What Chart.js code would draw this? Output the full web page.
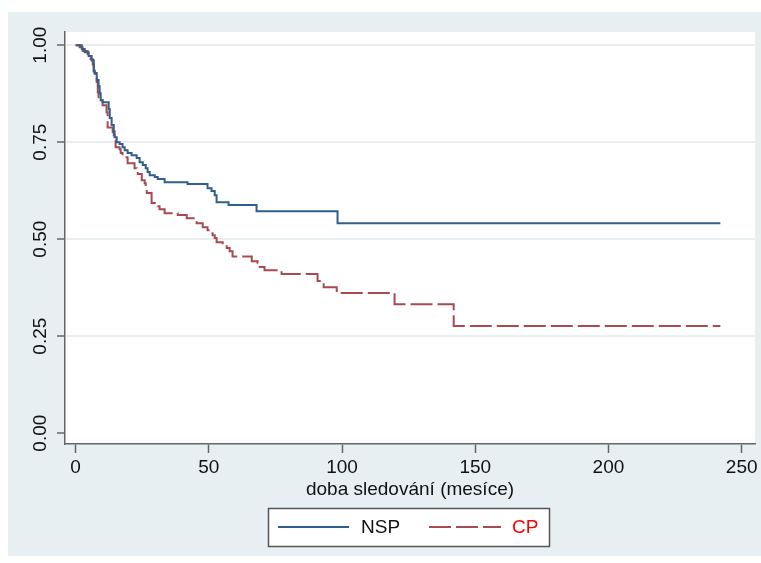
<!DOCTYPE html>
<html>
<head>
<meta charset="utf-8">
<script src="https://cdn.jsdelivr.net/npm/chart.js@4/dist/chart.umd.min.js"></script>
<style>
  html, body { margin: 0; padding: 0; background: #fff; }
  #wrap { position: relative; width: 761px; height: 563px; }
</style>
</head>
<body>
<div id="wrap"><canvas id="km" width="761" height="563"></canvas></div>
<script>
// Kaplan-Meier odhady preziti, NSP vs CP
var nspTime = [0, 2.3, 3.4, 4.9, 6, 6.8, 7.1, 7.9, 8.6, 9, 9.4, 10.1, 12.4, 12.8, 13.5, 14.3, 14.6, 15.4, 16.5, 17.6, 18.4, 19.5, 21, 22.9, 24, 25.2, 26.3, 27, 27.8, 29.7, 30.8, 33.4, 42, 49.5, 51, 52.2, 52.9, 57.4, 67.9, 98.3, 242];
var nspSurv = [1, 0.99, 0.982, 0.972, 0.961, 0.935, 0.928, 0.91, 0.894, 0.876, 0.858, 0.853, 0.835, 0.812, 0.794, 0.778, 0.763, 0.75, 0.745, 0.737, 0.729, 0.722, 0.716, 0.709, 0.698, 0.691, 0.683, 0.673, 0.665, 0.66, 0.655, 0.647, 0.642, 0.631, 0.624, 0.613, 0.595, 0.588, 0.572, 0.541, 0.541];

var cpTime = [0, 1.5, 2.6, 4.5, 5.6, 6.4, 6.8, 7.2, 7.9, 8.3, 8.6, 9.8, 10.1, 11.6, 12, 13.9, 14.3, 14.6, 15, 16.5, 16.9, 17.6, 19.5, 22.1, 22.9, 23.3, 24.8, 25.9, 26.3, 26.7, 28.5, 30.8, 31.5, 33.4, 38.3, 41.7, 44.7, 45.4, 47.7, 49.5, 49.9, 51.4, 52.2, 52.9, 55.2, 56.7, 57.8, 58.9, 66.1, 68.3, 68.7, 70.9, 77.3, 90.8, 92.7, 93.1, 98, 119.7, 141.9, 242];
var cpSurv = [1, 0.995, 0.985, 0.974, 0.964, 0.95, 0.932, 0.915, 0.905, 0.879, 0.863, 0.858, 0.845, 0.827, 0.788, 0.776, 0.768, 0.755, 0.737, 0.732, 0.722, 0.711, 0.696, 0.683, 0.678, 0.668, 0.652, 0.644, 0.634, 0.619, 0.593, 0.585, 0.577, 0.567, 0.562, 0.554, 0.549, 0.541, 0.531, 0.523, 0.515, 0.51, 0.503, 0.492, 0.485, 0.477, 0.469, 0.455, 0.443, 0.438, 0.428, 0.42, 0.41, 0.392, 0.387, 0.376, 0.361, 0.332, 0.276, 0.276];

var xTicks = [0, 50, 100, 150, 200, 250];
var yTicks = [0, 0.25, 0.5, 0.75, 1];
var xTitle = 'doba sledování (mesíce)';
var seriesNames = ['NSP', 'CP'];

var blue = '#2f5f8a';
var red = '#a84a52';
var axisGray = '#666';
var bgBlue = '#e8eff2';
var FONT = '"Liberation Sans", Arial, sans-serif';

function pts(t, s) {
  return t.map(function (v, i) { return { x: v, y: s[i] }; });
}

// pozadi grafu + bila plocha vykresu
var backdrop = {
  id: 'backdrop',
  beforeDraw: function (chart) {
    var c = chart.ctx, a = chart.chartArea;
    c.save();
    c.fillStyle = '#fff';
    c.fillRect(0, 0, chart.width, chart.height);
    c.fillStyle = bgBlue;
    c.fillRect(8, 12, chart.width - 8, 544);
    c.fillStyle = '#fff';
    c.fillRect(a.left, a.top, a.right - a.left, a.bottom - a.top);
    c.restore();
  }
};

// svisle popisky osy y a legenda v rameckem
var extras = {
  id: 'extras',
  afterDraw: function (chart) {
    var c = chart.ctx, ys = chart.scales.y;
    c.save();
    c.font = '19px ' + FONT;
    c.fillStyle = '#111';
    c.textAlign = 'center';
    c.textBaseline = 'middle';
    yTicks.forEach(function (v) {
      var py = ys.getPixelForValue(v);
      c.save();
      c.translate(41, py);
      c.rotate(-Math.PI / 2);
      c.fillText(v.toFixed(2), 0, 0);
      c.restore();
    });

    // legenda
    c.fillStyle = '#fff';
    c.fillRect(268, 508, 281, 38);
    c.strokeStyle = '#555';
    c.lineWidth = 1.5;
    c.strokeRect(268.5, 508.5, 281, 38);

    c.lineWidth = 2;
    c.strokeStyle = blue;
    c.beginPath(); c.moveTo(278, 527); c.lineTo(349, 527); c.stroke();
    c.strokeStyle = red;
    c.setLineDash([22, 5]);
    c.beginPath(); c.moveTo(429, 527); c.lineTo(501, 527); c.stroke();
    c.setLineDash([]);

    c.font = '19px ' + FONT;
    c.textAlign = 'left';
    c.fillStyle = '#111';
    c.fillText(seriesNames[0], 361, 528);
    c.fillStyle = '#ff0000';
    c.fillText(seriesNames[1], 512, 528);
    c.restore();
  }
};

new Chart(document.getElementById('km'), {
  type: 'line',
  data: {
    datasets: [{
      label: seriesNames[0],
      data: pts(nspTime, nspSurv),
      borderColor: blue,
      borderWidth: 2,
      stepped: 'before',
      pointRadius: 0,
      fill: false
    }, {
      label: seriesNames[1],
      data: pts(cpTime, cpSurv),
      borderColor: red,
      borderWidth: 2,
      borderDash: [22, 5],
      stepped: 'before',
      pointRadius: 0,
      fill: false
    }]
  },
  options: {
    responsive: false,
    animation: false,
    layout: { padding: { left: 0, top: 32, right: 6, bottom: 62 } },
    plugins: { legend: { display: false }, tooltip: { enabled: false } },
    scales: {
      x: {
        type: 'linear',
        min: -4,
        max: 255,
        afterBuildTicks: function (s) { s.ticks = xTicks.map(function (v) { return { value: v }; }); },
        afterFit: function (s) { s.height = 57; },
        grid: { color: 'rgba(0,0,0,0)', tickColor: axisGray, tickLength: 9, tickWidth: 1.5 },
        border: { color: axisGray, width: 1.5 },
        ticks: { color: '#111', font: { family: FONT, size: 19 }, padding: 3, maxRotation: 0 },
        title: { display: true, text: xTitle, color: '#111', font: { family: FONT, size: 19 }, padding: 0 }
      },
      y: {
        type: 'linear',
        min: -0.028,
        max: 1.034,
        afterBuildTicks: function (s) { s.ticks = yTicks.map(function (v) { return { value: v }; }); },
        afterFit: function (s) { s.width = 65; },
        grid: {
          color: function (ctx) { return ctx.tick && ctx.tick.value > 0 ? '#e9eff1' : 'rgba(0,0,0,0)'; },
          lineWidth: 2,
          tickColor: axisGray,
          tickLength: 8,
          tickWidth: 1.5
        },
        border: { color: axisGray, width: 1.5 },
        ticks: { display: false }
      }
    }
  },
  plugins: [backdrop, extras]
});
</script>
</body>
</html>
